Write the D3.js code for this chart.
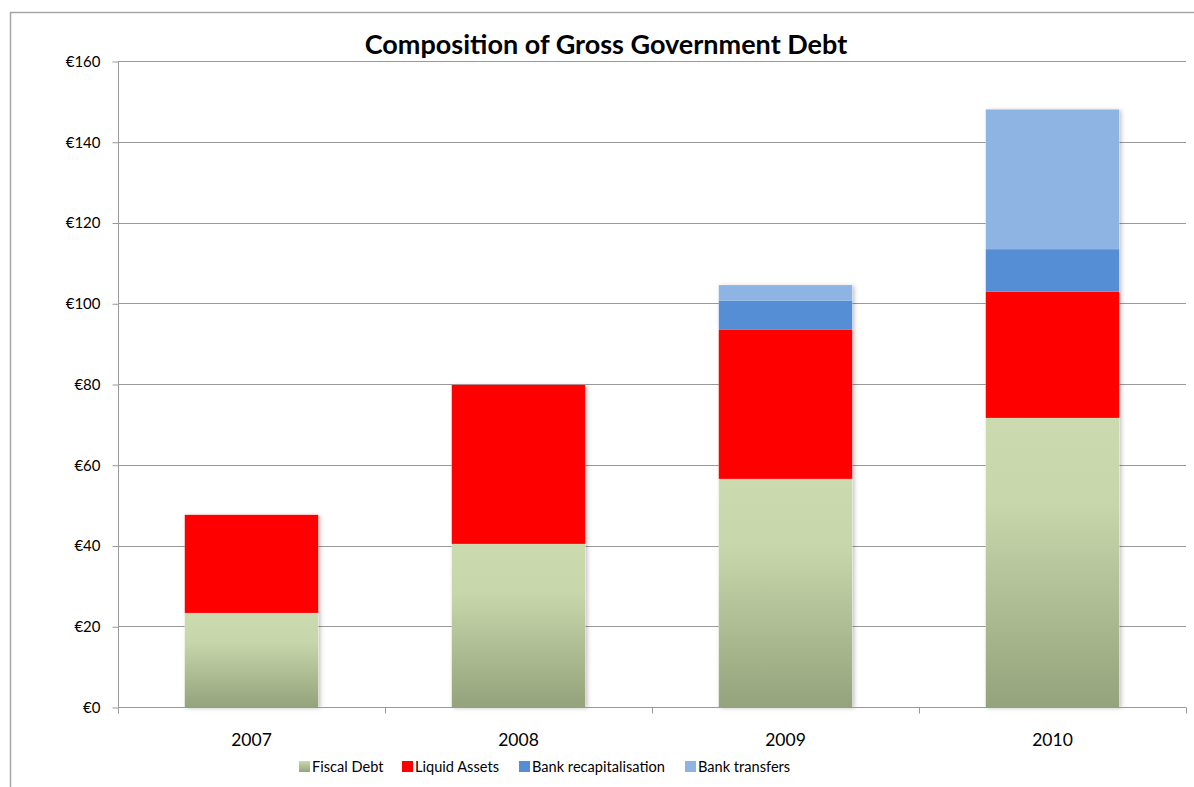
<!DOCTYPE html>
<html>
<head>
<meta charset="utf-8">
<script src="https://cdn.jsdelivr.net/npm/d3@7"></script>
<style>
  body { margin: 0; background: #fff; }
  svg text { font-family: Lato, "Open Sans", sans-serif; fill: #000; }
</style>
</head>
<body>
<div id="chart"></div>
<script>
// values in € billions
var years = ['2007', '2008', '2009', '2010'];
var seriesNames = ['Fiscal Debt', 'Liquid Assets', 'Bank recapitalisation', 'Bank transfers'];
var fiscalDebt = [23.3, 40.4, 56.5, 71.6];
var liquidAssets = [24.3, 39.4, 36.9, 31.3];
var bankRecap = [0, 0, 7.2, 10.5];
var bankTransfers = [0, 0, 3.9, 34.6];
var yTicks = [0, 20, 40, 60, 80, 100, 120, 140, 160];

var colors = ['url(#fiscalGrad)', '#ff0000', '#558ed5', '#8eb4e3'];
var swatch = ['url(#fiscalSwatch)', '#ff0000', '#558ed5', '#8eb4e3'];

var W = 1194, H = 787;
var margin = { left: 118, right: 8, top: 61, bottom: 80 };

var svg = d3.select('#chart').append('svg')
    .attr('width', W).attr('height', H);

var defs = svg.append('defs');
var g1 = defs.append('linearGradient').attr('id', 'fiscalGrad')
    .attr('x1', 0).attr('y1', 0).attr('x2', 0).attr('y2', 1);
g1.append('stop').attr('offset', '0%').attr('stop-color', '#cbdaaf');
g1.append('stop').attr('offset', '30%').attr('stop-color', '#c7d6ab');
g1.append('stop').attr('offset', '100%').attr('stop-color', '#95a37c');
var g2 = defs.append('linearGradient').attr('id', 'fiscalSwatch')
    .attr('x1', 0).attr('y1', 0).attr('x2', 0).attr('y2', 1);
g2.append('stop').attr('offset', '0%').attr('stop-color', '#c9d8ad');
g2.append('stop').attr('offset', '100%').attr('stop-color', '#97a57e');

var shadow = defs.append('filter').attr('id', 'shadow')
    .attr('x', '-10%').attr('y', '-10%').attr('width', '130%').attr('height', '130%');
shadow.append('feDropShadow').attr('dx', 2).attr('dy', 1).attr('stdDeviation', 2)
    .attr('flood-color', '#000').attr('flood-opacity', 0.25);

// outer chart frame
svg.append('rect')
    .attr('x', 10.5).attr('y', 12.5).attr('width', 1200).attr('height', 800)
    .attr('fill', 'none').attr('stroke', '#a6a6a6').attr('stroke-width', 1.5);

var x = d3.scaleBand().domain(years)
    .range([margin.left, W - margin.right])
    .paddingInner(0.5).paddingOuter(0.25);

var y = d3.scaleLinear().domain([0, 160])
    .range([707, margin.top]);

// gridlines
svg.append('g').selectAll('line').data(yTicks.slice(1))
    .enter().append('line')
    .attr('x1', margin.left).attr('x2', W - margin.right)
    .attr('y1', d => Math.round(y(d)) + 0.5).attr('y2', d => Math.round(y(d)) + 0.5)
    .attr('stroke', '#999').attr('stroke-width', 1);

// stacked bars
var table = years.map(function(yr, i) {
    return { year: yr, s0: fiscalDebt[i], s1: liquidAssets[i], s2: bankRecap[i], s3: bankTransfers[i] };
});
var stack = d3.stack().keys(['s0', 's1', 's2', 's3']);
var layers = stack(table);

var barG = svg.append('g');
// shadow under each whole bar
barG.selectAll('rect.shadow').data(table).enter().append('rect')
    .attr('class', 'shadow')
    .attr('x', d => x(d.year))
    .attr('width', x.bandwidth())
    .attr('y', d => y(d.s0 + d.s1 + d.s2 + d.s3))
    .attr('height', d => y(0) - y(d.s0 + d.s1 + d.s2 + d.s3))
    .attr('fill', '#fff')
    .attr('filter', 'url(#shadow)');

layers.forEach(function(layer, li) {
    barG.append('g').selectAll('rect').data(layer).enter().append('rect')
        .attr('x', d => x(d.data.year))
        .attr('width', x.bandwidth())
        .attr('y', d => y(d[1]))
        .attr('height', d => Math.max(0, y(d[0]) - y(d[1])))
        .attr('fill', colors[li]);
});

// y axis
var yAxis = d3.axisLeft(y).tickValues(yTicks).tickSize(6).tickPadding(12)
    .tickFormat(d => '€' + d);
var ya = svg.append('g').attr('transform', 'translate(' + (margin.left + 0.5) + ',0.5)').call(yAxis);
ya.select('.domain').attr('stroke', '#999').attr('d', 'M0,' + y(160) + 'V' + (y(0) + 6));
ya.selectAll('.tick line').attr('stroke', '#999');
ya.selectAll('.tick text').style('font-size', '15px');

// x axis
var xa = svg.append('g').attr('transform', 'translate(0,' + (Math.round(y(0)) + 0.5) + ')');
xa.append('line').attr('x1', margin.left).attr('x2', W - margin.right)
    .attr('stroke', '#999');
var edges = d3.range(years.length + 1).map(i => margin.left + i * (W - margin.right - margin.left) / years.length);
xa.selectAll('line.tk').data(edges).enter().append('line')
    .attr('class', 'tk')
    .attr('x1', d => Math.round(d) + 0.5).attr('x2', d => Math.round(d) + 0.5)
    .attr('y1', 0).attr('y2', 6).attr('stroke', '#999');
xa.selectAll('text').data(years).enter().append('text')
    .attr('x', d => x(d) + x.bandwidth() / 2)
    .attr('y', 38)
    .attr('text-anchor', 'middle')
    .style('font-size', '17.5px')
    .text(d => d);

// title
svg.append('text')
    .attr('x', 606).attr('y', 54)
    .attr('text-anchor', 'middle')
    .style('font-size', '27px').style('font-weight', 'bold')
    .text('Composition of Gross Government Debt');

// legend
var legendX = [299, 402, 519, 685];
var leg = svg.append('g').selectAll('g').data(seriesNames).enter().append('g')
    .attr('transform', (d, i) => 'translate(' + legendX[i] + ',761)');
leg.append('rect').attr('width', 11).attr('height', 11).attr('fill', (d, i) => swatch[i]);
leg.append('text').attr('x', 13).attr('y', 11).style('font-size', '14.6px').text(d => d);
</script>
</body>
</html>
